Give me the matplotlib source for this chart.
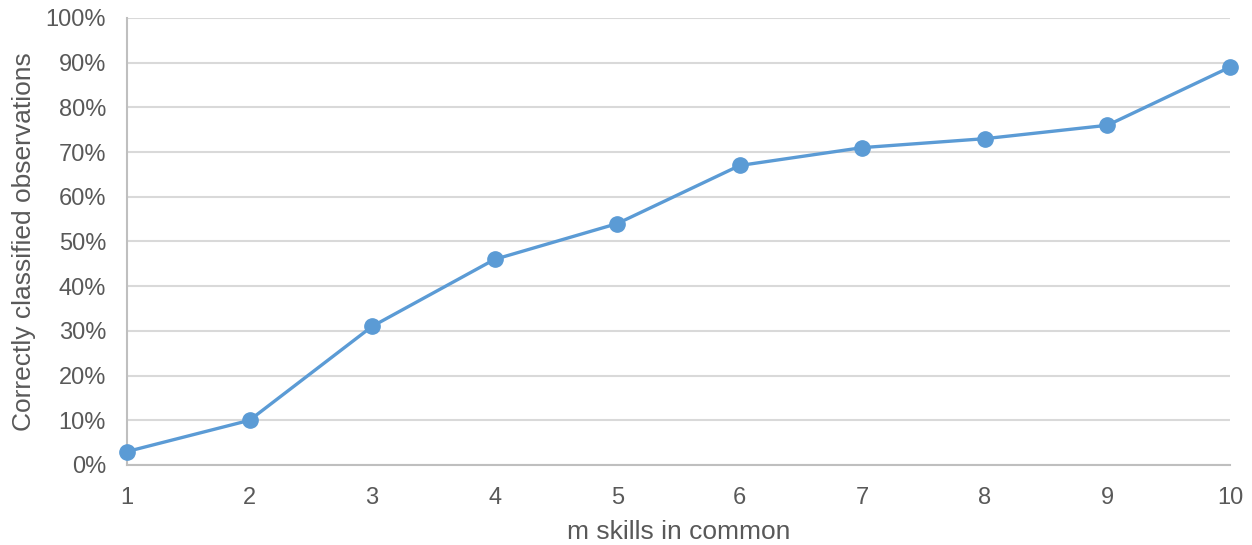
import numpy as np
import matplotlib.pyplot as plt

plt.rcParams['font.family'] = ['Liberation Sans', 'DejaVu Sans']

skills = [1, 2, 3, 4, 5, 6, 7, 8, 9, 10]
correct = [3, 10, 31, 46, 54, 67, 71, 73, 76, 89]
yticks = [0, 10, 20, 30, 40, 50, 60, 70, 80, 90, 100]

txt = '#595959'
grid = '#d9d9d9'

fig = plt.figure(figsize=(12.52, 5.45), dpi=100)
ax = fig.add_axes([0.1014, 0.1468, 0.8810, 0.8202])

ax.plot(skills, correct, color='#5b9bd5', lw=2.4, marker='o', ms=11,
        solid_capstyle='round', clip_on=False, zorder=3)

ax.set_xlim(1, 10)
ax.set_ylim(0, 100)
ax.set_xticks(skills)
ax.set_yticks(yticks)
ax.set_yticklabels(['%d%%' % v for v in yticks])
ax.yaxis.grid(True, color=grid, lw=1.5)
ax.set_axisbelow(True)
ax.tick_params(length=0, labelsize=17, colors=txt)
ax.tick_params(axis='y', pad=15)
ax.tick_params(axis='x', pad=16)

for s in ['top', 'right']:
    ax.spines[s].set_visible(False)
for s in ['left', 'bottom']:
    ax.spines[s].set_color('#bfbfbf')
    ax.spines[s].set_linewidth(1.5)

ax.set_xlabel('m skills in common', fontsize=19, color=txt, labelpad=7.5)
ax.set_ylabel('Correctly classified observations', fontsize=19, color=txt, labelpad=7)

fig.savefig('out.png', dpi=100)
